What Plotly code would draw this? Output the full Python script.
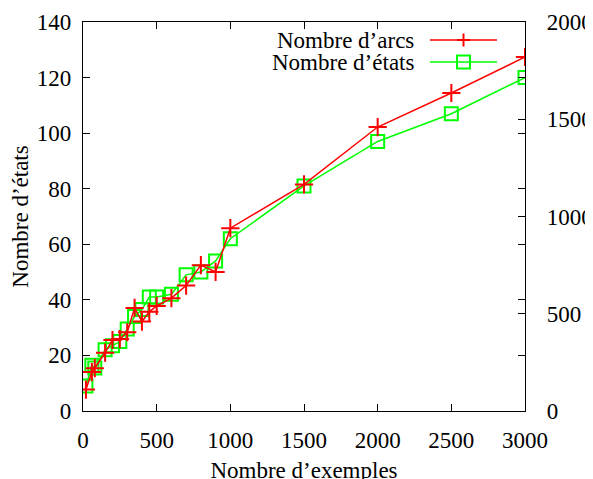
import plotly.graph_objects as go

examples = [20, 60, 80, 150, 200, 250, 300, 350, 400, 450, 500, 600, 700, 800, 900, 1000, 1500, 2000, 2500, 3000]
arcs = [110, 200, 220, 300, 365, 370, 405, 530, 460, 510, 540, 580, 645, 750, 715, 940, 1165, 1460, 1635, 1820]
etats = [9, 16.5, 15.5, 22, 23.5, 25, 29.5, 34, 36.5, 41, 41, 42, 49, 50, 54, 62, 81, 97, 107, 120]

x_ticks = [0, 500, 1000, 1500, 2000, 2500, 3000]
y_ticks = [0, 20, 40, 60, 80, 100, 120, 140]
y2_ticks = [0, 500, 1000, 1500, 2000]

RED = "#ff0000"
GREEN = "#00ff00"
FONT = "Liberation Serif"
FS = 23

fig = go.Figure()
fig.add_trace(go.Scatter(
    x=examples, y=arcs, yaxis="y2", mode="lines+markers", name="Nombre d’arcs",
    line=dict(color=RED, width=1.5),
    marker=dict(symbol="cross-thin", size=13, line=dict(color=RED, width=2), color=RED),
    showlegend=False))
fig.add_trace(go.Scatter(
    x=examples, y=etats, mode="lines+markers", name="Nombre d’états",
    line=dict(color=GREEN, width=1.5),
    marker=dict(symbol="square-open", size=13, line=dict(color=GREEN, width=2), color=GREEN),
    showlegend=False))

axis_common = dict(showline=True, linecolor="black", linewidth=1.2, ticks="inside",
                   ticklen=7, tickcolor="black", tickwidth=1, showgrid=False, zeroline=False,
                   tickfont=dict(family=FONT, size=FS, color="black"))

# the page adds an 8px body margin; plot area targeted at x 83..525, y 22..411 in the window
fig.update_layout(
    width=593, height=479,
    margin=dict(l=75, r=76, t=14, b=76, autoexpand=False),
    paper_bgcolor="white", plot_bgcolor="white",
    font=dict(family=FONT, size=FS, color="black"),
    xaxis=dict(range=[0, 3000], tickvals=x_ticks, mirror="ticks", ticklabelstandoff=8,
               title=dict(text="Nombre d’exemples", font=dict(family=FONT, size=FS), standoff=10),
               **axis_common),
    yaxis=dict(range=[0, 140], tickvals=y_ticks, mirror="ticks", ticklabelstandoff=6,
               title=dict(text="Nombre d’états", font=dict(family=FONT, size=FS), standoff=4),
               **axis_common),
    yaxis2=dict(range=[0, 2000], tickvals=y2_ticks, overlaying="y", side="right",
                ticklabelstandoff=16, **axis_common),
)

W, H = 442.0, 389.0
def px(xp):
    return (xp - 83) / W
def py(yp):
    return (411 - yp) / H

# right axis title, mostly beyond the right edge of the picture as in the reference
fig.add_annotation(x=px(584), y=py(238), xref="paper", yref="paper", text="Nombre d’arcs",
                   showarrow=False, xanchor="left", yanchor="middle", textangle=-90,
                   font=dict(family=FONT, size=FS, color="black"))

# gnuplot-style key: text, then a line sample with marker
for yp, label, color, kind in [(40, "Nombre d’arcs", RED, "plus"), (62, "Nombre d’états", GREEN, "square")]:
    fig.add_annotation(x=px(416), y=py(yp), xref="paper", yref="paper", text=label,
                       showarrow=False, xanchor="right", yanchor="middle",
                       font=dict(family=FONT, size=FS, color="black"))
    fig.add_shape(type="line", xref="paper", yref="paper", x0=px(430), x1=px(497),
                  y0=py(yp), y1=py(yp), line=dict(color=color, width=1.5))
    if kind == "plus":
        fig.add_shape(type="line", xref="paper", yref="paper", x0=px(457), x1=px(470),
                      y0=py(yp), y1=py(yp), line=dict(color=color, width=2))
        fig.add_shape(type="line", xref="paper", yref="paper", x0=px(463.5), x1=px(463.5),
                      y0=py(yp - 6.5), y1=py(yp + 6.5), line=dict(color=color, width=2))
    else:
        fig.add_shape(type="rect", xref="paper", yref="paper", x0=px(457), x1=px(470),
                      y0=py(yp + 6.5), y1=py(yp - 6.5), line=dict(color=color, width=2),
                      fillcolor="rgba(0,0,0,0)")

fig.write_html("out.html")
